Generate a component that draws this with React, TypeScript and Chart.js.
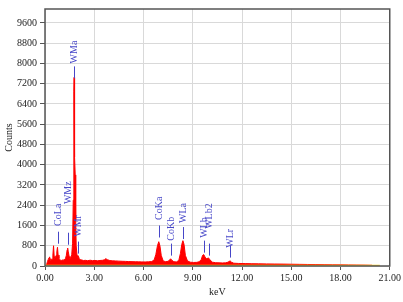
import { useEffect, useRef } from "react";
import { Chart, registerables } from "chart.js";
Chart.register(...registerables);

const energyKeV = [
  0.0, 0.05, 0.1, 0.15, 0.2, 0.25, 0.28, 0.32, 0.36, 0.4, 0.44, 0.48, 0.52, 0.56, 0.6, 0.64, 0.68, 0.72, 0.76,
  0.8, 0.85, 0.9, 0.95, 1.0, 1.05, 1.1, 1.15, 1.2, 1.25, 1.3, 1.35, 1.38, 1.42, 1.47, 1.52, 1.58, 1.63, 1.68,
  1.72, 1.75, 1.765, 1.775, 1.785, 1.8, 1.82, 1.84, 1.87, 1.9, 1.95, 2.0, 2.04, 2.08, 2.15, 2.25, 2.35, 2.45,
  2.6, 2.75, 2.9, 3.05, 3.2, 3.35, 3.5, 3.62, 3.7, 3.8, 3.95, 4.1, 4.3, 4.5, 4.7, 4.9, 5.1, 5.3, 5.5, 5.7, 5.9,
  6.1, 6.3, 6.5, 6.65, 6.75, 6.85, 6.93, 7.0, 7.08, 7.2, 7.35, 7.5, 7.6, 7.65, 7.72, 7.85, 8.0, 8.15, 8.25,
  8.33, 8.4, 8.47, 8.55, 8.68, 8.85, 9.05, 9.25, 9.4, 9.52, 9.6, 9.67, 9.75, 9.85, 9.96, 10.05, 10.2, 10.4,
  10.6, 10.8, 11.0, 11.15, 11.22, 11.29, 11.36, 11.5, 11.8, 12.2, 12.6, 13.0, 13.5, 14.0, 14.5, 15.0, 15.5,
  16.0, 16.5, 17.0, 17.5, 18.0, 18.5, 19.0, 19.5, 19.9, 20.0
];
const counts = [
  0, 0, 60, 180, 260, 330, 360, 220, 290, 200, 270, 430, 800, 380, 300, 340, 420, 560, 740,
  430, 300, 250, 230, 220, 240, 225, 255, 260, 300, 420, 640, 710, 560, 380, 300, 330, 460, 900,
  2600, 5600, 6900, 7450, 6600, 5800, 4300, 3600, 1800, 800, 420, 330, 380, 300, 250, 235, 215, 225,
  210, 228, 212, 220, 205, 218, 225, 245, 290, 250, 215, 205, 200, 192, 186, 182, 175, 172, 168, 165, 162,
  160, 165, 175, 240, 450, 800, 960, 800, 420, 200, 170, 185, 250, 285, 230, 170, 160, 220, 500,
  850, 1000, 850, 420, 200, 150, 140, 145, 170, 260, 420, 450, 350, 285, 320, 240, 150, 130,
  125, 120, 125, 150, 185, 195, 150, 110, 100, 95, 90, 86, 82, 78, 75, 70, 65,
  60, 56, 52, 48, 45, 42, 38, 34, 28, 0
];
const baselineKeV = [0, 20.4];
const baselineCounts = [50, 50];

const peakLabels = ["CoLa", "WMz", "WMa", "WMr", "CoKa", "CoKb", "WLa", "WLb", "WLb2", "WLr"];
const peakEnergies = [0.776, 1.38, 1.775, 2.035, 6.93, 7.65, 8.4, 9.67, 9.96, 11.29];
const markerCounts = [880, 840, 7410, 490, 1126, 410, 1064, 528, 410, 332];
const labelTextCounts = [1584, 2444, 8000, 1154, 1818, 997, 1700, 1115, 1467, 723];

const xTicks = [0, 3, 6, 9, 12, 15, 18, 21];
const yTicks = [0, 800, 1600, 2400, 3200, 4000, 4800, 5600, 6400, 7200, 8000, 8800, 9600];

const serif = "Liberation Serif";

export default function App() {
  const ref = useRef<HTMLCanvasElement | null>(null);
  useEffect(() => {
    document.body.style.margin = "0";
    if (!ref.current) return;
    const labelPlugin = {
      id: "peakLabels",
      afterDatasetsDraw(chart: any) {
        const { ctx, scales, chartArea } = chart;
        const xs = scales.x;
        const ys = scales.y;
        ctx.save();
        ctx.strokeStyle = "#4646c8";
        ctx.fillStyle = "#4646c8";
        ctx.lineWidth = 1;
        ctx.font = `10px '${serif}'`;
        peakLabels.forEach((lab, i) => {
          const x = Math.round(xs.getPixelForValue(peakEnergies[i])) + 0.5;
          const yb = ys.getPixelForValue(markerCounts[i]);
          ctx.beginPath();
          ctx.moveTo(x, yb);
          ctx.lineTo(x, yb - 12);
          ctx.stroke();
          ctx.save();
          ctx.translate(x, ys.getPixelForValue(labelTextCounts[i]));
          ctx.rotate(-Math.PI / 2);
          ctx.textAlign = "left";
          ctx.textBaseline = "middle";
          ctx.fillText(lab, 0, 0);
          ctx.restore();
        });
        ctx.strokeStyle = "#555";
        ctx.lineWidth = 1.5;
        ctx.strokeRect(chartArea.left, chartArea.top, chartArea.right - chartArea.left, chartArea.bottom - chartArea.top);
        ctx.restore();
      },
    };
    const chart = new Chart(ref.current, {
      type: "line",
      data: {
        datasets: [
          {
            data: baselineKeV.map((x, i) => ({ x, y: baselineCounts[i] })),
            borderWidth: 0,
            borderColor: "#ffd21f",
            backgroundColor: "#ffd21f",
            fill: "origin",
            pointRadius: 0,
          },
          {
            data: energyKeV.map((x, i) => ({ x, y: counts[i] })),
            borderWidth: 1,
            borderColor: "#ff0000",
            backgroundColor: "#ff0000",
            fill: "origin",
            pointRadius: 0,
            tension: 0,
          },
        ],
      },
      options: {
        animation: false,
        responsive: true,
        maintainAspectRatio: false,
        layout: { padding: { left: 0, top: 6, right: 12, bottom: 0 } },
        plugins: { legend: { display: false }, tooltip: { enabled: false } },
        scales: {
          x: {
            type: "linear",
            min: 0,
            max: 21,
            afterBuildTicks: (s: any) => {
              s.ticks = xTicks.map((v) => ({ value: v }));
            },
            afterFit: (s: any) => {
              s.height = 36;
            },
            ticks: {
              font: { family: serif, size: 10 },
              color: "#222",
              padding: 2,
              maxRotation: 0,
              callback: (v: any) => Number(v).toFixed(2),
            },
            grid: { color: "#d9d9d9", tickColor: "#555", tickLength: 4 },
            border: { display: false },
            title: {
              display: true,
              text: "keV",
              font: { family: serif, size: 10 },
              color: "#222",
              padding: { top: 0, bottom: 4 },
            },
          },
          y: {
            type: "linear",
            min: 0,
            max: 10150,
            afterBuildTicks: (s: any) => {
              s.ticks = yTicks.map((v) => ({ value: v }));
            },
            afterFit: (s: any) => {
              s.width = 45;
            },
            ticks: {
              font: { family: serif, size: 10 },
              color: "#222",
              padding: 3,
              callback: (v: any) => String(v),
            },
            grid: { color: "#d9d9d9", tickColor: "#555", tickLength: 5 },
            border: { display: false },
            title: {
              display: true,
              text: "Counts",
              font: { family: serif, size: 10 },
              color: "#222",
              padding: { top: 3, bottom: 0 },
            },
          },
        },
      },
      plugins: [labelPlugin],
    });
    return () => chart.destroy();
  }, []);
  return (
    <div style={{ width: 403, height: 302, position: "relative", background: "#fff" }}>
      <canvas ref={ref} />
    </div>
  );
}
